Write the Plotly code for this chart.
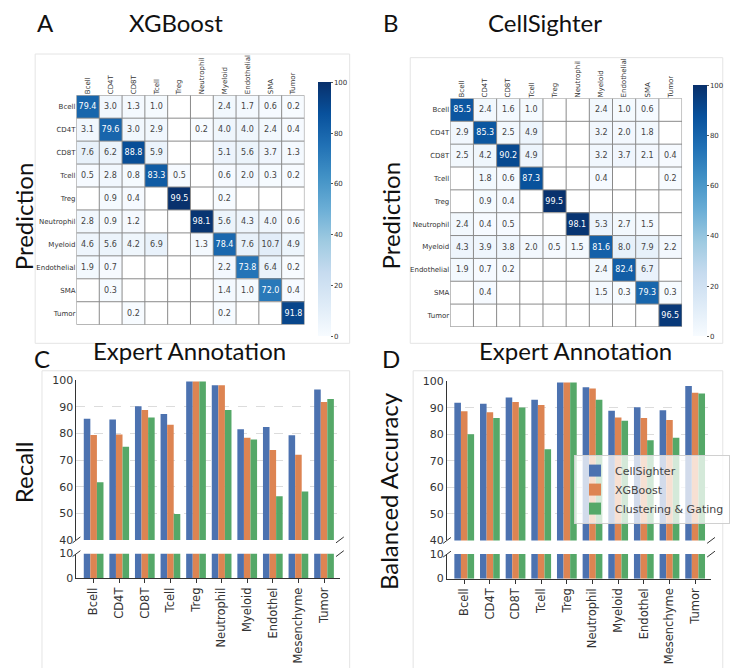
import plotly.graph_objects as go

W, H = 730, 668

# ---- data ----
cell_types = ["Bcell", "CD4T", "CD8T", "Tcell", "Treg", "Neutrophil",
              "Myeloid", "Endothelial", "SMA", "Tumor"]
bar_categories = ["Bcell", "CD4T", "CD8T", "Tcell", "Treg", "Neutrophil",
                  "Myeloid", "Endothel", "Mesenchyme", "Tumor"]

# confusion matrices (rows = prediction, columns = expert annotation), % per column
xgb_matrix = [
    [79.4, 3.0, 1.3, 1.0, None, None, 2.4, 1.7, 0.6, 0.2],
    [3.1, 79.6, 3.0, 2.9, None, 0.2, 4.0, 4.0, 2.4, 0.4],
    [7.6, 6.2, 88.8, 5.9, None, None, 5.1, 5.6, 3.7, 1.3],
    [0.5, 2.8, 0.8, 83.3, 0.5, None, 0.6, 2.0, 0.3, 0.2],
    [None, 0.9, 0.4, None, 99.5, None, 0.2, None, None, None],
    [2.8, 0.9, 1.2, None, None, 98.1, 5.6, 4.3, 4.0, 0.6],
    [4.6, 5.6, 4.2, 6.9, None, 1.3, 78.4, 7.6, 10.7, 4.9],
    [1.9, 0.7, None, None, None, None, 2.2, 73.8, 6.4, 0.2],
    [None, 0.3, None, None, None, None, 1.4, 1.0, 72.0, 0.4],
    [None, None, 0.2, None, None, None, 0.2, None, None, 91.8],
]
cellsighter_matrix = [
    [85.5, 2.4, 1.6, 1.0, None, None, 2.4, 1.0, 0.6, None],
    [2.9, 85.3, 2.5, 4.9, None, None, 3.2, 2.0, 1.8, None],
    [2.5, 4.2, 90.2, 4.9, None, None, 3.2, 3.7, 2.1, 0.4],
    [None, 1.8, 0.6, 87.3, None, None, 0.4, None, None, 0.2],
    [None, 0.9, 0.4, None, 99.5, None, None, None, None, None],
    [2.4, 0.4, 0.5, None, None, 98.1, 5.3, 2.7, 1.5, None],
    [4.3, 3.9, 3.8, 2.0, 0.5, 1.5, 81.6, 8.0, 7.9, 2.2],
    [1.9, 0.7, 0.2, None, None, None, 2.4, 82.4, 6.7, None],
    [None, 0.4, None, None, None, None, 1.5, 0.3, 79.3, 0.3],
    [None, None, None, None, None, None, None, None, None, 96.5],
]

recall_cellsighter = [85.5, 85.3, 90.2, 87.3, 99.5, 98.1, 81.6, 82.4, 79.3, 96.5]
recall_xgboost = [79.4, 79.6, 88.8, 83.3, 99.5, 98.1, 78.4, 73.8, 72.0, 91.8]
recall_gating = [61.7, 75.0, 86.0, 49.7, 99.5, 88.8, 77.7, 56.4, 58.2, 93.0]

balacc_cellsighter = [91.9, 91.5, 93.9, 93.0, 99.5, 97.7, 88.9, 90.2, 89.1, 98.2]
balacc_xgboost = [88.7, 88.3, 92.2, 91.0, 99.5, 97.3, 86.3, 86.1, 85.4, 95.7]
balacc_gating = [80.0, 86.1, 90.1, 74.4, 99.5, 93.0, 85.1, 77.8, 78.7, 95.4]

method_names = ["CellSighter", "XGBoost", "Clustering & Gating"]
method_colors = ["#4C72B0", "#DD8452", "#55A868"]

blues = [[0.0, "#f7fbff"], [0.125, "#deebf7"], [0.25, "#c6dbef"], [0.375, "#9ecae1"],
         [0.5, "#6baed6"], [0.625, "#4292c6"], [0.75, "#2171b5"], [0.875, "#08519c"],
         [1.0, "#08306b"]]

TICK_FONT = "DejaVu Sans"
TITLE_FONT = "Lato"


def px_x(x):
    return x / W


def px_y(y):
    return 1 - y / H


fig = go.Figure()


def add_heatmap(matrix, xa, ya, cb_x, cb_top, cb_bot, cb_thick):
    text = [["" if v is None else f"{v:.1f}" for v in row] for row in matrix]
    fig.add_trace(go.Heatmap(
        z=matrix, x=list(range(len(cell_types))), y=list(range(len(cell_types))),
        text=text, texttemplate="%{text}",
        textfont=dict(family=TICK_FONT, size=8),
        colorscale=blues, zmin=0, zmax=100,
        xaxis=xa, yaxis=ya, hoverongaps=False,
        colorbar=dict(
            x=px_x(cb_x), xanchor="left", xpad=0, ypad=0,
            y=px_y((cb_top + cb_bot) / 2), yanchor="middle",
            len=(cb_bot - cb_top) / H, lenmode="fraction",
            thickness=cb_thick, outlinewidth=0,
            tickvals=[0, 20, 40, 60, 80, 100], ticks="outside", ticklen=2,
            tickcolor="#555", tickfont=dict(family=TICK_FONT, size=7, color="#333"),
        ),
    ))
    # cell separator lines
    n = len(cell_types)
    for i in range(n + 1):
        fig.add_shape(type="line", xref=xa, yref=ya, x0=i - 0.5, x1=i - 0.5,
                      y0=-0.5, y1=n - 0.5, line=dict(color="#8a8a8a", width=1),
                      layer="above")
        fig.add_shape(type="line", xref=xa, yref=ya, y0=i - 0.5, y1=i - 0.5,
                      x0=-0.5, x1=n - 0.5, line=dict(color="#8a8a8a", width=1),
                      layer="above")


add_heatmap(xgb_matrix, "x", "y", 326, 77.7, 337, 13)
add_heatmap(cellsighter_matrix, "x2", "y2", 710, 80.7, 337, 14)

heat_x = dict(tickvals=list(range(len(cell_types))), ticktext=cell_types, side="top",
              tickangle=-90, range=[-0.5, 9.5], showgrid=False, zeroline=False,
              ticks="", tickfont=dict(family=TICK_FONT, size=7, color="#333"))
heat_y = dict(tickvals=list(range(len(cell_types))), ticktext=cell_types,
              range=[9.5, -0.5], showgrid=False, zeroline=False, ticks="",
              tickfont=dict(family=TICK_FONT, size=7, color="#333"))

fig.update_layout(
    xaxis=dict(domain=[px_x(78.3), px_x(311.7)], anchor="y", **heat_x),
    yaxis=dict(domain=[px_y(325), px_y(91)], anchor="x", **heat_y),
    xaxis2=dict(domain=[px_x(461), px_x(698.3)], anchor="y2", **heat_x),
    yaxis2=dict(domain=[px_y(327.3), px_y(94.3)], anchor="x2", **heat_y),
)


# ---- grouped bar charts on broken y axes ----
def add_bars(series, xa, ya_up, ya_low, show_legend):
    for name, color, vals in zip(method_names, method_colors, series):
        for ya, leg in ((ya_up, show_legend), (ya_low, False)):
            fig.add_trace(go.Bar(
                x=bar_categories, y=vals, name=name, marker_color=color,
                marker_line_width=0, xaxis=xa, yaxis=ya, offsetgroup=name,
                legendgroup=name, showlegend=leg,
            ))


add_bars([recall_cellsighter, recall_xgboost, recall_gating], "x3", "y3", "y4", False)
add_bars([balacc_cellsighter, balacc_xgboost, balacc_gating], "x4", "y5", "y6", True)

bar_x = dict(type="category", range=[-0.67, 9.62], showline=True, linecolor="#333",
             linewidth=1, ticks="outside", ticklen=4, tickcolor="#333", tickangle=-90,
             showgrid=False, tickfont=dict(family=TICK_FONT, size=11.5, color="#333"))
upper_y = dict(range=[40, 100], tickvals=[40, 50, 60, 70, 80, 90, 100], showline=True,
               linecolor="#333", linewidth=1, showgrid=True, gridcolor="#dcdcdc",
               griddash="dash", gridwidth=1, zeroline=False, ticks="",
               tickfont=dict(family=TICK_FONT, size=11, color="#333"))
lower_y = dict(range=[0, 10], tickvals=[0, 10], showline=True, linecolor="#333",
               linewidth=1, showgrid=False, zeroline=False, ticks="",
               tickfont=dict(family=TICK_FONT, size=11, color="#333"))

# (bottom, top) pixel rows of the upper and lower y panels
c_up, c_low = (544.5, 381.7), (583.3, 558.5)
d_up, d_low = (545.0, 382.7), (584.0, 559.0)

fig.update_layout(
    xaxis3=dict(domain=[px_x(78.3), px_x(348)], anchor="y4", **bar_x),
    yaxis3=dict(domain=[px_y(c_up[0]), px_y(c_up[1])], anchor="x3", **upper_y),
    yaxis4=dict(domain=[px_y(c_low[0]), px_y(c_low[1])], anchor="x3", **lower_y),
    xaxis4=dict(domain=[px_x(457.7), px_x(728)], anchor="y6", **bar_x),
    yaxis5=dict(domain=[px_y(d_up[0]), px_y(d_up[1])], anchor="x4", **upper_y),
    yaxis6=dict(domain=[px_y(d_low[0]), px_y(d_low[1])], anchor="x4", **lower_y),
    barmode="group", bargap=0.23, bargroupgap=0,
)

# axis-break marks
for xs, ys in (((78.3, 348), (c_up[0], c_low[1])), ((457.7, 728), (d_up[0], d_low[1]))):
    for xp in xs:
        for yp in ys:
            fig.add_shape(type="line", xref="paper", yref="paper",
                          x0=px_x(xp - 4), y0=px_y(yp + 3),
                          x1=px_x(xp + 4), y1=px_y(yp - 3),
                          line=dict(color="#333", width=1))

# light panel frames
for x0, y0, x1, y1 in ((36, 49, 358, 344), (420, 52.7, 740, 344),
                       (43, 372, 358, 700), (423, 372, 740, 700)):
    fig.add_shape(type="rect", xref="paper", yref="paper",
                  x0=px_x(x0), x1=px_x(x1), y0=px_y(y1), y1=px_y(y0),
                  line=dict(color="#e4e4e4", width=1), fillcolor="rgba(0,0,0,0)",
                  layer="below")

# titles, panel letters and axis labels
labels = [
    ("A", 47, 16.5, 0), ("XGBoost", 180, 16.5, 0),
    ("B", 400, 16.5, 0), ("CellSighter", 558, 16.5, 0),
    ("Prediction", 24, 214, -90), ("Prediction", 400, 214, -90),
    ("Expert Annotation", 194, 351, 0), ("Expert Annotation", 589, 351, 0),
    ("C", 43, 360, 0), ("D", 400, 360, 0),
    ("Recall", 24, 475, -90), ("Balanced Accuracy", 398, 495, -90),
]
for txt, xp, yp, ang in labels:
    fig.add_annotation(text=txt, x=px_x(xp), y=px_y(yp), xref="paper", yref="paper",
                       xanchor="center", yanchor="middle", showarrow=False,
                       textangle=ang, font=dict(family=TITLE_FONT, size=24, color="#111"))

fig.update_layout(
    width=W, height=H, margin=dict(l=0, r=0, t=0, b=0),
    paper_bgcolor="white", plot_bgcolor="white",
    legend=dict(x=px_x(588), y=px_y(458), xanchor="left", yanchor="top",
                bgcolor="rgba(255,255,255,0.75)", bordercolor="#d0d0d0", borderwidth=1,
                font=dict(family=TICK_FONT, size=11, color="#444"), tracegroupgap=0),
)

fig.write_html("out.html")
